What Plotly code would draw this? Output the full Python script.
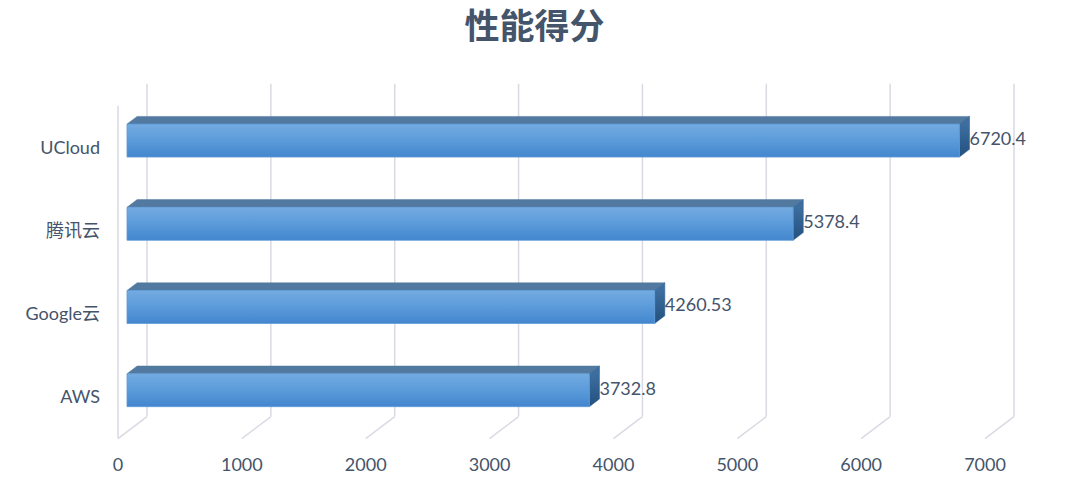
import plotly.graph_objects as go

# data (bottom to top, as drawn)
categories = ["AWS", "Google云", "腾讯云", "UCloud"]
scores = [3732.8, 4260.53, 5378.4, 6720.4]
score_labels = ["3732.8", "4260.53", "5378.4", "6720.4"]
x_ticks = [0, 1000, 2000, 3000, 4000, 5000, 6000, 7000]

W, H = 1080, 488
# pixel geometry of the fake 3d box
L, R, T, B = 104, 1045, 70, 448
X0_PX = 118            # pixel of value 0 on the front plane
KX = (985 - 118) / 7000  # px per value unit
Y0_PX = 397            # pixel of first category on the front plane
KY = 83.2              # px per category step
DX = 29 / KX           # full depth offset, in data units
DY = 22 / KY
D0, D1 = 0.31, 0.66    # bar front / back depth
HALF = 0.198           # half bar height (category units)

TEXT = "#44546A"
GRID = "#D9DAE3"
FONT = "Lato, 'Noto Sans CJK SC', sans-serif"


def P(v, c, d):
    return v + d * DX, c + d * DY


def poly(pts):
    xs = [p[0] for p in pts] + [pts[0][0]]
    ys = [p[1] for p in pts] + [pts[0][1]]
    return xs, ys


fig = go.Figure()

# walls / floor grid
gx, gy = [], []
for t in x_ticks:
    for a, b in [(P(t, -0.5, 0), P(t, -0.5, 1)), (P(t, -0.5, 1), P(t, 3.5, 1))]:
        gx += [a[0], b[0], None]
        gy += [a[1], b[1], None]
a, b = P(0, -0.5, 0), P(0, 3.5, 0)
gx += [a[0], b[0], None]
gy += [a[1], b[1], None]
fig.add_trace(go.Scatter(x=gx, y=gy, mode="lines", line=dict(color=GRID, width=1.5),
                         hoverinfo="skip", showlegend=False))

for i, v in enumerate(scores):
    c = i
    top = [P(0, c + HALF, D0), P(v, c + HALF, D0), P(v, c + HALF, D1), P(0, c + HALF, D1)]
    side = [P(v, c - HALF, D0), P(v, c - HALF, D1), P(v, c + HALF, D1), P(v, c + HALF, D0)]
    front = [P(0, c - HALF, D0), P(v, c - HALF, D0), P(v, c + HALF, D0), P(0, c + HALF, D0)]
    xs, ys = poly(top)
    fig.add_trace(go.Scatter(x=xs, y=ys, mode="lines", fill="toself", fillcolor="#52799F",
                             line=dict(width=0.5, color="#52799F"), hoverinfo="skip", showlegend=False))
    xs, ys = poly(side)
    fig.add_trace(go.Scatter(x=xs, y=ys, mode="lines", fill="toself",
                             fillgradient=dict(type="vertical", start=front[0][1], stop=front[2][1],
                                               colorscale=[[0, "#23517F"], [1, "#3C6E9F"]]),
                             line=dict(width=0.5, color="#2E5F8E"), hoverinfo="skip", showlegend=False))
    xs, ys = poly(front)
    fig.add_trace(go.Scatter(x=xs, y=ys, mode="lines", fill="toself",
                             fillgradient=dict(type="vertical", start=front[0][1], stop=front[2][1],
                                               colorscale=[[0, "#4386CE"], [0.5, "#5B9BDA"], [1, "#74ABE1"]]),
                             line=dict(width=0.8, color="#5E9AD6"), hoverinfo="skip", showlegend=False))

# value labels
lx = [P(v, 0, D1)[0] for v in scores]
ly = [P(0, i, D0)[1] for i in range(len(scores))]
fig.add_trace(go.Scatter(x=lx, y=ly, mode="text", text=score_labels, textposition="middle right",
                         textfont=dict(size=18, color=TEXT, family=FONT), hoverinfo="skip", showlegend=False))

fig.update_layout(
    width=W, height=H,
    margin=dict(l=L, r=W - R, t=T, b=H - B, pad=0, autoexpand=False),
    plot_bgcolor="white", paper_bgcolor="white",
    font=dict(family=FONT, color=TEXT, size=18),
    title=dict(text="<b>性能得分</b>", x=0.495, xanchor="center", y=1 - 27 / H, yanchor="middle",
               font=dict(size=35, color=TEXT, family=FONT), automargin=False),
)
fig.update_xaxes(range=[-(X0_PX - L) / KX, (R - X0_PX) / KX], tickvals=x_ticks,
                 showgrid=False, zeroline=False, showline=False, ticks="", automargin=False,
                 ticklabelstandoff=4, tickfont=dict(size=18, color=TEXT))
fig.update_yaxes(range=[-(B - Y0_PX) / KY, (Y0_PX - T) / KY], tickvals=list(range(len(categories))),
                 ticktext=categories, showgrid=False, zeroline=False, showline=False, ticks="",
                 automargin=False, ticklabelstandoff=3, tickfont=dict(size=18, color=TEXT))

fig.write_html("out.html", config={"displayModeBar": False},
               post_script="document.body.style.margin='0px';")
